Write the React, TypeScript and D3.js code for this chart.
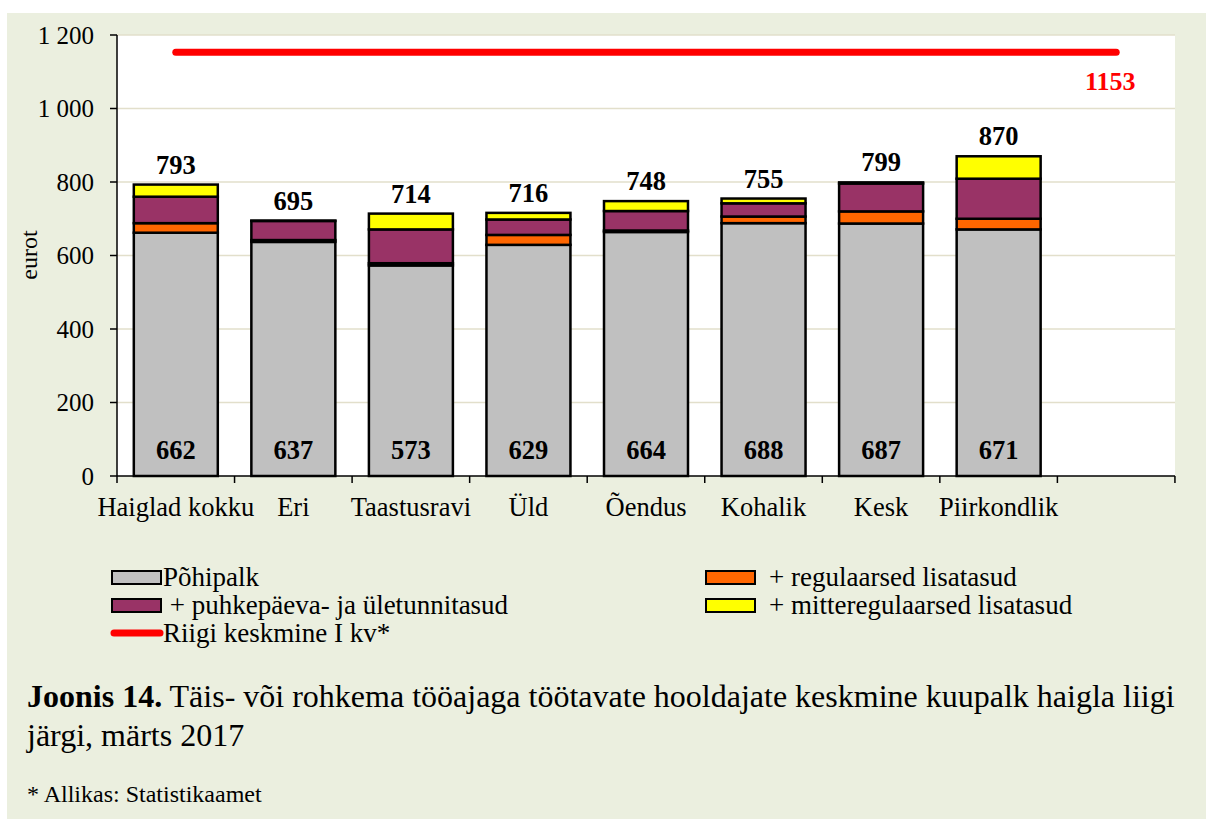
import React from "react";
import * as d3 from "d3";

const categories = ["Haiglad kokku", "Eri", "Taastusravi", "Üld", "Õendus", "Kohalik", "Kesk", "Piirkondlik"];
const pohipalk = [662, 637, 573, 629, 664, 688, 687, 671];
const regulaarsed = [26, 5, 6, 27, 4, 18, 33, 29];
const puhkepaeva = [72, 52, 92, 42, 53, 36, 76, 109];
const mitteregulaarsed = [33, 1, 43, 18, 27, 13, 3, 61];
const totals = [793, 695, 714, 716, 748, 755, 799, 870];
const riigiKeskmine = 1153;
const yTicks = [0, 200, 400, 600, 800, 1000, 1200];

const seriesNames = ["Põhipalk", "+ regulaarsed lisatasud", " + puhkepäeva- ja ületunnitasud", "+ mitteregulaarsed lisatasud"];
const seriesKeys = ["pohipalk", "regulaarsed", "puhkepaeva", "mitteregulaarsed"];
const seriesColors = ["#C0C0C0", "#FF6600", "#993366", "#FFFF00"];
const lineName = "Riigi keskmine I kv*";

const FONT = "'Liberation Serif', 'Times New Roman', serif";
const W = 1206;
const H = 819;
const plot = { left: 117, right: 1175, top: 35, bottom: 476 };

const fmt = d3.formatLocale({ decimal: ",", thousands: "\u00a0", grouping: [3], currency: ["", ""] }).format(",d");

export default function App() {
  const slots = [...categories, "__empty__"];
  const x = d3
    .scaleBand<string>()
    .domain(slots)
    .range([plot.left, plot.right])
    .paddingInner(0.2855)
    .paddingOuter(0.143);
  const step = x.step();
  const y = d3.scaleLinear().domain([0, 1200]).range([plot.bottom, plot.top]);

  const rows = categories.map((c, i) => ({
    cat: c,
    pohipalk: pohipalk[i],
    regulaarsed: regulaarsed[i],
    puhkepaeva: puhkepaeva[i],
    mitteregulaarsed: mitteregulaarsed[i],
  }));
  const stacked = d3.stack<any>().keys(seriesKeys)(rows);

  const lineGen = d3
    .line<string>()
    .x((d) => (x(d) as number) + x.bandwidth() / 2)
    .y(() => y(riigiKeskmine));
  const lineSlots = [slots[0], slots[slots.length - 1]];

  const boundaries = d3.range(slots.length + 1).map((k) => plot.left + k * step);
  const lastCenter = (x(slots[slots.length - 1]) as number) + x.bandwidth() / 2;

  return (
    <div style={{ position: "absolute", left: 0, top: 0 }}>
      <svg width={W} height={H} style={{ display: "block" }} fontFamily={FONT}>
        <rect x={0} y={0} width={W} height={H} fill="#ffffff" />
        <rect x={7} y={13} width={W - 7} height={H - 13} fill="#EBEFDF" />
        <rect x={plot.left} y={plot.top} width={plot.right - plot.left} height={plot.bottom - plot.top} fill="#ffffff" />

        {/* gridlines */}
        {yTicks.filter((t) => t > 0).map((t) => (
          <line key={"g" + t} x1={plot.left} x2={plot.right} y1={y(t)} y2={y(t)} stroke="#E2DFCB" strokeWidth={1.5} />
        ))}

        {/* bars */}
        {stacked.map((s, si) => (
          <g key={s.key}>
            {s.map((d, i) => (
              <rect
                key={i}
                x={x(categories[i]) as number}
                y={y(d[1])}
                width={x.bandwidth()}
                height={Math.max(0, y(d[0]) - y(d[1]))}
                fill={seriesColors[si]}
                stroke="#000"
                strokeWidth={2.5}
              />
            ))}
          </g>
        ))}

        {/* red line */}
        <path d={lineGen(lineSlots) as string} stroke="#FF0000" strokeWidth={7} strokeLinecap="round" fill="none" />
        <text x={lastCenter - 6} y={y(riigiKeskmine) + 38} textAnchor="middle" fill="#FF0000" fontWeight="bold" fontSize={26}>
          {riigiKeskmine}
        </text>

        {/* axes */}
        <line x1={plot.left} x2={plot.left} y1={plot.top} y2={plot.bottom} stroke="#000" strokeWidth={1.5} />
        <line x1={plot.left} x2={plot.right} y1={plot.bottom} y2={plot.bottom} stroke="#000" strokeWidth={1.5} />
        {yTicks.map((t) => (
          <g key={"yt" + t}>
            <line x1={plot.left - 7} x2={plot.left} y1={y(t)} y2={y(t)} stroke="#000" strokeWidth={1.5} />
            <text x={94} y={y(t)} dy="0.34em" textAnchor="end" fontSize={25} fill="#000">
              {fmt(t)}
            </text>
          </g>
        ))}
        {boundaries.map((bx, k) => (
          <line key={"xt" + k} x1={bx} x2={bx} y1={plot.bottom} y2={plot.bottom + 7} stroke="#000" strokeWidth={1.5} />
        ))}
        {categories.map((c) => (
          <text key={"xl" + c} x={(x(c) as number) + x.bandwidth() / 2} y={516} textAnchor="middle" fontSize={26.5} fill="#000">
            {c}
          </text>
        ))}
        <text transform={`translate(37,255) rotate(-90)`} textAnchor="middle" fontSize={24} fill="#000">
          eurot
        </text>

        {/* value labels */}
        {categories.map((c, i) => (
          <text key={"bl" + c} x={(x(c) as number) + x.bandwidth() / 2} y={459} textAnchor="middle" fontSize={26.5} fontWeight="bold" fill="#000">
            {pohipalk[i]}
          </text>
        ))}
        {categories.map((c, i) => (
          <text key={"tl" + c} x={(x(c) as number) + x.bandwidth() / 2} y={y(totals[i]) - 11} textAnchor="middle" fontSize={26.5} fontWeight="bold" fill="#000">
            {totals[i]}
          </text>
        ))}

        {/* legend */}
        <g fontSize={27} fill="#000">
          <rect x={112} y={571} width={49} height={13} fill={seriesColors[0]} stroke="#000" strokeWidth={2} />
          <text x={163} y={586}>{seriesNames[0]}</text>
          <rect x={112} y={599} width={49} height={13} fill={seriesColors[2]} stroke="#000" strokeWidth={2} />
          <text x={163} y={614} style={{ whiteSpace: "pre" }}>{seriesNames[2]}</text>
          <line x1={114} x2={160} y1={633} y2={633} stroke="#FF0000" strokeWidth={7} strokeLinecap="round" />
          <text x={163} y={642}>{lineName}</text>
          <rect x={706} y={571} width={49} height={13} fill={seriesColors[1]} stroke="#000" strokeWidth={2} />
          <text x={769} y={586}>{seriesNames[1]}</text>
          <rect x={706} y={599} width={49} height={13} fill={seriesColors[3]} stroke="#000" strokeWidth={2} />
          <text x={769} y={614}>{seriesNames[3]}</text>
        </g>

        {/* caption */}
        <text x={27} y={707} fontSize={32} fill="#000">
          <tspan fontWeight="bold">Joonis 14.</tspan>
          <tspan> Täis- või rohkema tööajaga töötavate hooldajate keskmine kuupalk haigla liigi</tspan>
        </text>
        <text x={27} y={746} fontSize={32} fill="#000">
          järgi, märts 2017
        </text>
        <text x={27} y={802} fontSize={24} fill="#000">
          * Allikas: Statistikaamet
        </text>
      </svg>
    </div>
  );
}
